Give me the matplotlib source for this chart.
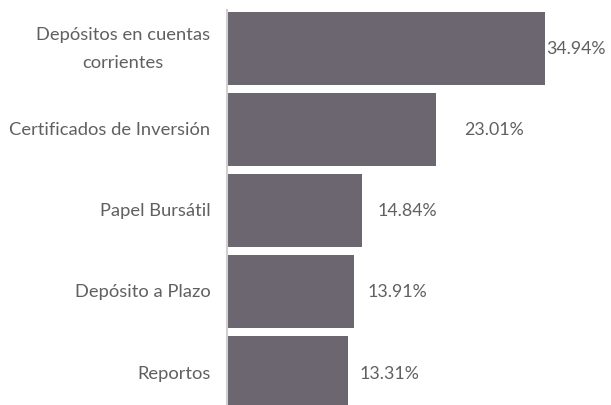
import matplotlib
matplotlib.use("Agg")
import matplotlib.pyplot as plt

categories = ["Depósitos en cuentas\ncorrientes", "Certificados de Inversión",
              "Papel Bursátil", "Depósito a Plazo", "Reportos"]
values = [34.94, 23.01, 14.84, 13.91, 13.31]
labels = ["34.94%", "23.01%", "14.84%", "13.91%", "13.31%"]
label_offsets = [1, 20, 11, 10, 8]  # points

plt.rcParams['font.family'] = ['Lato', 'DejaVu Sans']

fig = plt.figure(figsize=(6.11, 4.06), dpi=100)
ax = fig.add_axes([227/611, 0, 384/611, 395/406])
bar_color = "#6c6671"
text_color = "#606060"
ys = list(range(len(categories)))
ax.barh(ys, values, height=0.9, color=bar_color)
ax.set_ylim(4.40, -0.47)
ax.set_xlim(0, 42.2)
ax.set_yticks(ys)
ax.set_yticklabels(categories, fontsize=13.2, color=text_color, linespacing=1.95)
for t in ax.get_yticklabels():
    t.set_horizontalalignment('right')
    t.set_verticalalignment('center')
    t.set_multialignment('center')
ax.tick_params(axis='y', length=0, pad=12)
ax.set_xticks([])
for s in ["top", "right", "bottom"]:
    ax.spines[s].set_visible(False)
ax.spines["left"].set_color("#d0d0d0")
ax.spines["left"].set_linewidth(1.5)
for y, v, lab, off in zip(ys, values, labels, label_offsets):
    ax.annotate(lab, xy=(v, y), xytext=(off, 0), textcoords="offset points",
                ha="left", va="center", fontsize=12.8, color=text_color,
                clip_on=False)
fig.savefig("out.png", dpi=100)
